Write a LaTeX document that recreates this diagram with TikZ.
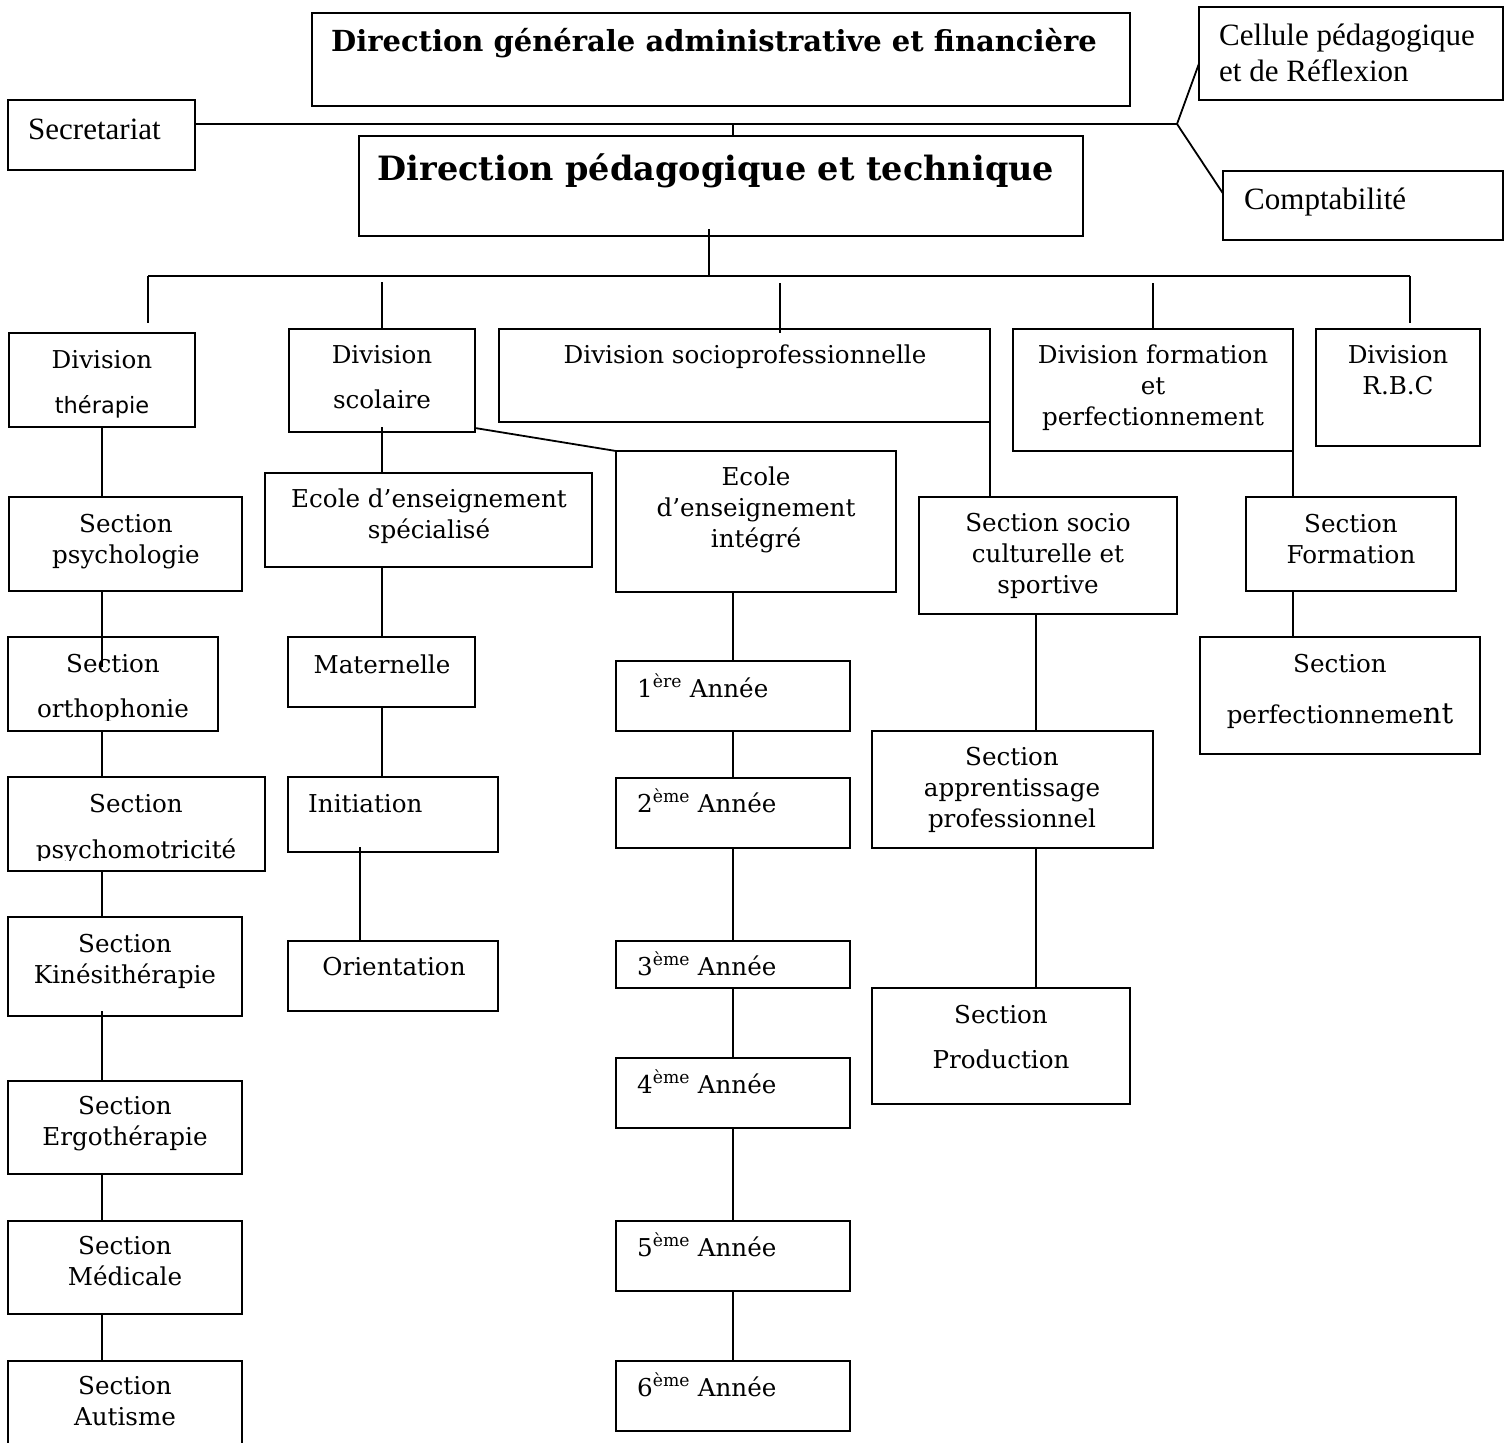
\documentclass[tikz,border=0pt]{standalone}
\usepackage{fontspec}
\setmainfont{DejaVu Serif}
\newfontfamily\timesfont{Liberation Serif}
\newfontfamily\gulimfont{DejaVu Sans}
\usetikzlibrary{calc,positioning}

\tikzset{
    box/.style={draw, line width=1.8pt, inner sep=0pt, outer sep=0pt},
    txt/.style={anchor=base, align=center, inner sep=0pt, font=\fontsize{24.6}{31}\selectfont},
    lefttxt/.style={txt, anchor=base west, align=left},
    tms/.style={anchor=base west, align=left, inner sep=0pt, font=\timesfont\fontsize{31}{36}\selectfont},
    titre/.style={anchor=base, inner sep=0pt, font=\bfseries\fontsize{29}{32}\selectfont},
    link/.style={line width=1.8pt}
}

\begin{document}
\begin{tikzpicture}[x=1pt, y=-1pt]
    \useasboundingbox (0,0) rectangle (1511,1442);

    % direction
    \node[box, minimum width=818pt, minimum height=93pt] (dg) at (721,59.5) {};
    \node[box, minimum width=187pt, minimum height=70pt] (secr) at (101.5,135) {};
    \node[box, minimum width=304pt, minimum height=93pt] (cell) at (1351,53.5) {};
    \node[box, minimum width=280pt, minimum height=69pt] (compta) at (1363,205.5) {};
    \node[box, minimum width=724pt, minimum height=100pt] (dpt) at (721,186) {};

    \node[titre] (dg-t) at (714,52) {Direction générale administrative et financière};
    \node[titre, font=\bfseries\fontsize{33.5}{36}\selectfont] (dpt-t) at (716,181) {Direction pédagogique et technique};
    \node[tms] (secr-t) at (28,140) {Secretariat};
    \node[tms] (cell-t) at (1219,82) {Cellule pédagogique\\et de Réflexion};
    \node[tms] (compta-t) at (1244,209) {Comptabilité};

    % divisions
    \node[box, minimum width=186pt, minimum height=94pt] (divth) at (102,380) {};
    \node[box, minimum width=186pt, minimum height=103pt] (divsc) at (382,380.5) {};
    \node[box, minimum width=491pt, minimum height=93pt] (divsp) at (744.5,375.5) {};
    \node[box, minimum width=280pt, minimum height=122pt] (divfp) at (1153,390) {};
    \node[box, minimum width=164pt, minimum height=117pt] (divrbc) at (1398,387.5) {};

    \node[txt] (divth-t) at (102,413) {Division\\[14pt]{\gulimfont\fontsize{22.5}{31}\selectfont thérapie}};
    \node[txt] (divsc-t) at (382,408) {Division\\[14pt]scolaire};
    \node[txt] (divsp-t) at (745,363) {Division socioprofessionnelle};
    \node[txt] (divfp-t) at (1153,425) {Division formation\\et\\perfectionnement};
    \node[txt] (divrbc-t) at (1398,394) {Division\\R.B.C};

    % sections therapie
    \node[box, minimum width=233pt, minimum height=94pt] (psycho) at (125.5,544) {};
    \node[box, minimum width=210pt, minimum height=94pt] (ortho) at (113,684) {};
    \node[box, minimum width=257pt, minimum height=94pt] (pmot) at (136.5,824) {};
    \node[box, minimum width=234pt, minimum height=99pt] (kine) at (125,966.5) {};
    \node[box, minimum width=234pt, minimum height=93pt] (ergo) at (125,1127.5) {};
    \node[box, minimum width=234pt, minimum height=93pt] (medic) at (125,1267.5) {};
    \node[box, minimum width=234pt, minimum height=99pt] (autis) at (125,1410.5) {};

    \node[txt] (psycho-t) at (126,563) {Section\\psychologie};
    \begin{scope}
        \clip (ortho.north west) rectangle ($(ortho.south east)+(0,-11)$);
        \node[txt] (ortho-t) at (113,717) {Section\\[14pt]orthophonie};
    \end{scope}
    \begin{scope}
        \clip (pmot.north west) rectangle ($(pmot.south east)+(0,-11)$);
        \node[txt] (pmot-t) at (136,858) {Section\\[15pt]psychomotricité};
    \end{scope}
    \node[txt] (kine-t) at (125,983) {Section\\Kinésithérapie};
    \node[txt] (ergo-t) at (125,1145) {Section\\Ergothérapie};
    \node[txt] (medic-t) at (125,1285) {Section\\Médicale};
    \node[txt] (autis-t) at (125,1425) {Section\\Autisme};

    % scolaire
    \node[box, minimum width=327pt, minimum height=94pt] (ees) at (428.5,520) {};
    \node[box, minimum width=187pt, minimum height=70pt] (mater) at (381.5,672) {};
    \node[box, minimum width=210pt, minimum height=75pt] (initi) at (393,814.5) {};
    \node[box, minimum width=210pt, minimum height=70pt] (orient) at (393,976) {};
    \node[box, minimum width=280pt, minimum height=141pt] (eei) at (756,521.5) {};

    \node[txt] (ees-t) at (429,538) {Ecole d’enseignement\\spécialisé};
    \node[txt] (mater-t) at (382,673) {Maternelle};
    \node[lefttxt] (initi-t) at (308,812) {Initiation};
    \node[txt] (orient-t) at (394,975) {Orientation};
    \node[txt] (eei-t) at (756,547) {Ecole\\d’enseignement\\intégré};

    \node[box, minimum width=234pt, minimum height=70pt] (an1) at (733,696) {};
    \node[box, minimum width=234pt, minimum height=70pt] (an2) at (733,813) {};
    \node[box, minimum width=234pt, minimum height=47pt] (an3) at (733,964.5) {};
    \node[box, minimum width=234pt, minimum height=70pt] (an4) at (733,1093) {};
    \node[box, minimum width=234pt, minimum height=70pt] (an5) at (733,1256) {};
    \node[box, minimum width=234pt, minimum height=70pt] (an6) at (733,1396) {};

    \node[lefttxt] (an1-t) at (637,697) {1\textsuperscript{ère} Année};
    \node[lefttxt] (an2-t) at (637,812) {2\textsuperscript{ème} Année};
    \node[lefttxt] (an3-t) at (637,975) {3\textsuperscript{ème} Année};
    \node[lefttxt] (an4-t) at (637,1093) {4\textsuperscript{ème} Année};
    \node[lefttxt] (an5-t) at (637,1256) {5\textsuperscript{ème} Année};
    \node[lefttxt] (an6-t) at (637,1396) {6\textsuperscript{ème} Année};

    % socioprofessionnelle et formation
    \node[box, minimum width=258pt, minimum height=117pt] (socio) at (1048,555.5) {};
    \node[box, minimum width=281pt, minimum height=117pt] (appr) at (1012.5,789.5) {};
    \node[box, minimum width=258pt, minimum height=116pt] (prod) at (1001,1046) {};
    \node[box, minimum width=210pt, minimum height=94pt] (sform) at (1351,544) {};
    \node[box, minimum width=280pt, minimum height=117pt] (sperf) at (1340,695.5) {};

    \node[txt] (socio-t) at (1048,593) {Section socio\\culturelle et\\sportive};
    \node[txt] (appr-t) at (1012,827) {Section\\apprentissage\\professionnel};
    \node[txt] (prod-t) at (1001,1068) {Section\\[14pt]Production};
    \node[txt] (sform-t) at (1351,563) {Section\\Formation};
    \node[txt] (sperf-t) at (1340,723) {Section\\[20pt]perfectionneme{\fontsize{29}{31}\selectfont nt}};

    \coordinate (hub) at (1177,124);
    \coordinate (dgjoin) at (733,124);
    \coordinate (bus) at (709,276);
    \coordinate (busL) at (148,276);
    \coordinate (busR) at (1410,276);
    \coordinate (dropsp) at (780,283);

    \draw[link] (hub -| secr.east) -- (hub);
    \draw[link] (hub) -- ([yshift=-10pt]cell.west);
    \draw[link] (hub) -- ([yshift=12pt]compta.west);
    \draw[link] (dgjoin) -- (dgjoin |- dpt.north);
    \draw[link] (bus |- dpt.south) ++(0,-7) -- (bus);
    \draw[link] (busL) -- (busR);
    \draw[link] (busL) -- ($(busL |- divth.north)+(0,-10)$);
    \draw[link] ($(divsc.north)+(0,-47)$) -- (divsc.north);
    \draw[link] (dropsp) -- ($(dropsp |- divsp.north)+(0,4)$);
    \draw[link] ($(divfp.north)+(0,-46)$) -- (divfp.north);
    \draw[link] (busR) -- ($(busR |- divrbc.north)+(0,-6)$);

    \draw[link] (divth.south) -- (divth.south |- psycho.north);
    \draw[link] (divth.south |- psycho.south) -- ($(divth.south |- ortho.north)+(0,30)$);
    \draw[link] (divth.south |- ortho.south) -- (divth.south |- pmot.north);
    \draw[link] (divth.south |- pmot.south) -- (divth.south |- kine.north);
    \draw[link] ($(divth.south |- kine.south)+(0,-5)$) -- (divth.south |- ergo.north);
    \draw[link] (divth.south |- ergo.south) -- (divth.south |- medic.north);
    \draw[link] (divth.south |- medic.south) -- (divth.south |- autis.north);

    \draw[link] ($(divsc.south)+(0,-5)$) -- (divsc.south |- ees.north);
    \draw[link] ([yshift=4pt]divsc.south east) -- (eei.north west);
    \draw[link] (divsc.south |- ees.south) -- (divsc.south |- mater.north);
    \draw[link] (divsc.south |- mater.south) -- (divsc.south |- initi.north);
    \draw[link] ($(initi.south west)+(72,-5)$) -- ($(orient.north west)+(72,0)$);

    \draw[link] (an1.north |- eei.south) -- (an1.north);
    \draw[link] (an1.south) -- (an2.north);
    \draw[link] (an2.south) -- (an3.north);
    \draw[link] (an3.south) -- (an4.north);
    \draw[link] (an4.south) -- (an5.north);
    \draw[link] (an5.south) -- (an6.north);

    \draw[link] ($(divsp.south east)+(0,-18)$) -- (divsp.south east |- socio.north);
    \draw[link] ($(socio.south west)+(117,0)$) -- ($(appr.north west)+(164,0)$);
    \draw[link] ($(appr.south west)+(164,0)$) -- ($(prod.north west)+(164,0)$);
    \draw[link] (divfp.south east) -- (divfp.south east |- sform.north);
    \draw[link] (divfp.south east |- sform.south) -- (divfp.south east |- sperf.north);
\end{tikzpicture}
\end{document}
